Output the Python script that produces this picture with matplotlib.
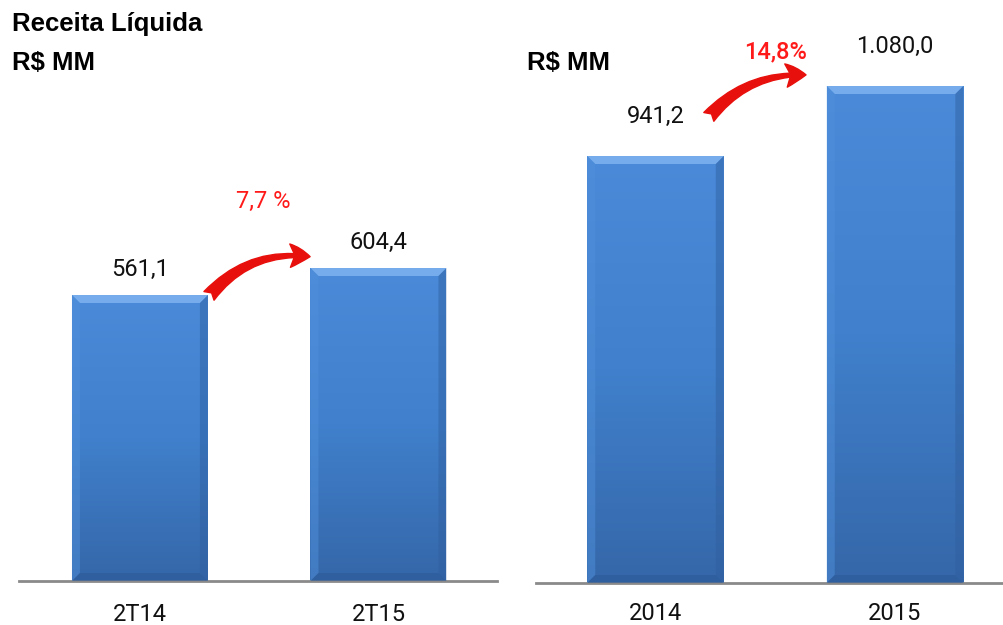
import matplotlib
matplotlib.use("Agg")
import matplotlib.pyplot as plt
import numpy as np
from matplotlib.patches import FancyArrowPatch, Polygon
from matplotlib.colors import LinearSegmentedColormap

# ---- data ----
q_labels = ["2T14", "2T15"]
q_values = [561.1, 604.4]
q_value_text = ["561,1", "604,4"]
q_growth = "7,7 %"

y_labels = ["2014", "2015"]
y_values = [941.2, 1080.0]
y_value_text = ["941,2", "1.080,0"]
y_growth = "14,8%"

title = "Receita Líquida"
unit = "R$ MM"

FONT = ["Roboto", "DejaVu Sans"]
BOLD = ["Liberation Sans", "DejaVu Sans"]

W, H = 1004, 625
fig = plt.figure(figsize=(W / 100, H / 100), dpi=100)
fig.patch.set_facecolor("white")

cmap = LinearSegmentedColormap.from_list("bar", ["#4A8AD8", "#4080CC", "#3567A9"])


def px_axes(x0, x1, ybase):
    return fig.add_axes([x0 / W, (H - ybase) / H, (x1 - x0) / W, ybase / H])


def draw_panel(ax, cats, vals, texts, ylim, xlim, label_pad, tick_pad):
    x = np.arange(len(cats))
    bars = ax.bar(x, vals, width=0.57, color="#4080CC", zorder=2)
    ax.set_xlim(*xlim)
    ax.set_ylim(*ylim)
    bbox = ax.get_window_extent()
    ypp = (ylim[1] - ylim[0]) / bbox.height
    xpp = (xlim[1] - xlim[0]) / bbox.width
    grad = np.linspace(0, 1, 256).reshape(-1, 1)
    for b in bars:
        x0, w, h = b.get_x(), b.get_width(), b.get_height()
        yb = ylim[0]
        im = ax.imshow(grad, cmap=cmap, aspect="auto",
                       extent=[x0, x0 + w, yb, h], origin="upper", zorder=2)
        im.set_clip_path(b)
        bv = 8
        ax.add_patch(Polygon([[x0, h], [x0 + w, h], [x0 + w - bv * xpp, h - bv * ypp],
                              [x0 + bv * xpp, h - bv * ypp]], closed=True,
                             facecolor="#76ACEB", edgecolor="none", zorder=3))
        ax.add_patch(Polygon([[x0, h], [x0 + bv * xpp, h - bv * ypp],
                              [x0 + bv * xpp, yb + bv * ypp], [x0, yb]], closed=True,
                             facecolor="#4F8FDA", edgecolor="none", zorder=3, alpha=0.5))
        ax.add_patch(Polygon([[x0 + w, h], [x0 + w - bv * xpp, h - bv * ypp],
                              [x0 + w - bv * xpp, yb + bv * ypp], [x0 + w, yb]], closed=True,
                             facecolor="#2F5E9E", edgecolor="none", zorder=3, alpha=0.45))
        ax.add_patch(Polygon([[x0, yb], [x0 + bv * xpp, yb + bv * ypp],
                              [x0 + w - bv * xpp, yb + bv * ypp], [x0 + w, yb]], closed=True,
                             facecolor="#2C5A98", edgecolor="none", zorder=3, alpha=0.6))
    for xi, v, t in zip(x, vals, texts):
        ax.text(xi, v + label_pad, t, ha="center", va="center", fontsize=17,
                family=FONT, color="#111111")
    ax.set_xticks(x)
    ax.set_xticklabels(cats, fontsize=17, family=FONT, color="#111111")
    ax.tick_params(axis="x", length=0, pad=tick_pad)
    ax.set_yticks([])
    for s in ["top", "left", "right"]:
        ax.spines[s].set_visible(False)
    ax.spines["bottom"].set_color("#8A8A8A")
    ax.spines["bottom"].set_linewidth(2)
    ax.set_facecolor("none")
    return bars


# left panel
axL = px_axes(19, 497, 581)
kL = 0.6236
yminL = 102.5
draw_panel(axL, q_labels, q_values, q_value_text,
           (yminL, yminL + 581 / kL), (-0.507, 1.497), 26 / kL, 16)

# right panel
axR = px_axes(536, 1004, 583)
kR = 0.5043
yminR = 94.5
draw_panel(axR, y_labels, y_values, y_value_text,
           (yminR, yminR + 583 / kR), (-0.499, 1.455), 40 / kR, 14)

ARROW = "fancy,head_length=1.2,head_width=1.4,tail_width=0.8"

# growth arrows
arrL = FancyArrowPatch((0.282, q_values[0] - 3 / kL), (0.725, q_values[1] + 11 / kL),
                       connectionstyle="arc3,rad=-0.28", arrowstyle=ARROW,
                       mutation_scale=12, color="#E8100C", zorder=5, clip_on=False)
axL.add_patch(arrL)
axL.text(0.515, q_values[1] + 67 / kL, q_growth, ha="center", va="center",
         fontsize=17, family=FONT, color="#FF1A1A")

arrR = FancyArrowPatch((0.215, y_values[0] + 37 / kR), (0.64, y_values[1] + 11 / kR),
                       connectionstyle="arc3,rad=-0.25", arrowstyle=ARROW,
                       mutation_scale=12, color="#E8100C", zorder=5, clip_on=False)
axR.add_patch(arrR)
axR.text(0.5, y_values[1] + 34 / kR, y_growth, ha="center", va="center",
         fontsize=17, family=FONT, color="#FF1A1A", fontweight="medium")

# titles
fig.text(12 / W, 1 - 24 / H, title, ha="left", va="center", fontsize=18.5,
         family=BOLD, fontweight="bold", color="black")
fig.text(12 / W, 1 - 63 / H, unit, ha="left", va="center", fontsize=18.5,
         family=BOLD, fontweight="bold", color="black")
fig.text(527 / W, 1 - 63 / H, unit, ha="left", va="center", fontsize=18.5,
         family=BOLD, fontweight="bold", color="black")

fig.savefig("out.png", dpi=100, facecolor="white")
